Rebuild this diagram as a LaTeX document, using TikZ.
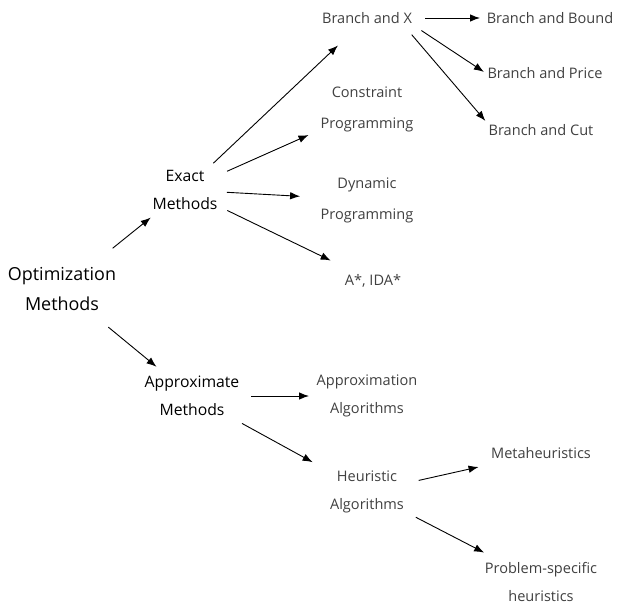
\documentclass[tikz,border=0pt]{standalone}
\usepackage{fontspec}
\setmainfont{Open Sans}
\usepackage{tikz}
\usetikzlibrary{arrows.meta, calc}
\newcommand{\arrowTip}{{Latex[length=10bp, width=7.5bp]}}
\newcommand{\lineWidth}{0.9bp}
\newcommand{\rootSize}{\fontsize{18}{31}\selectfont}
\newcommand{\mainSize}{\fontsize{15.8}{28}\selectfont}
\newcommand{\leafSize}{\fontsize{14.6}{28}\selectfont}
\definecolor{leafGray}{HTML}{404040}
\tikzstyle{panel}=[draw=none, inner sep=2bp, outer sep=0, align=center]
\tikzstyle{root}=[panel, text=black, font=\rootSize]
\tikzstyle{main}=[panel, text=black, font=\mainSize]
\tikzstyle{leaf}=[panel, text=leafGray, font=\leafSize]
\tikzstyle{line}=[draw=black, line width=\lineWidth]
\tikzstyle{arrow}=[line, -\arrowTip]

\begin{document}
\begin{tikzpicture}[x=1bp, y=-1bp]

% Frame
\useasboundingbox (0,0) rectangle (617,605);

% Root and first level
\node[root] (optim) at (62,289) {Optimization\\Methods};
\node[main] (exact) at (185,190) {Exact\\Methods};
\node[main] (approx) at (192,396) {Approximate\\Methods};

% Exact branch
\node[leaf] (branchX) at (367,18) {Branch and X};
\node[leaf] (constraint) at (367,109) {Constraint\\[3bp]Programming};
\node[leaf] (dynamic) at (367,200) {Dynamic\\[3bp]Programming};
\node[leaf] (aStar) at (373,281) {A*, IDA*};
\node[leaf] (bBound) at (550,18) {Branch and Bound};
\node[leaf] (bPrice) at (545,73) {Branch and Price};
\node[leaf] (bCut) at (541,130) {Branch and Cut};

% Approximate branch
\node[leaf] (approxAlg) at (367,396) {Approximation\\Algorithms};
\node[leaf] (heurAlg) at (367,492) {Heuristic\\Algorithms};
\node[leaf] (meta) at (541,453) {Metaheuristics};
\node[leaf] (probSpec) at (541,582) {Problem-specific\\heuristics};

% Arrows
\draw[arrow, shorten <=65bp, shorten >=44bp] (optim.center) -- (exact.center);
\draw[arrow, shorten <=60bp, shorten >=46bp] (optim.center) -- (approx.center);
\draw[arrow, shorten <=39bp, shorten >=40bp] (exact.center) -- (branchX.center);
\draw[arrow, shorten <=46bp, shorten >=64bp] (exact.center) -- (constraint.center);
\draw[arrow, shorten <=42bp, shorten >=67bp] (exact.center) -- (dynamic.center);
\draw[arrow, shorten <=47bp, shorten >=47bp] (exact.center) -- (aStar.center);
\draw[arrow, shorten <=58bp, shorten >=70bp] (branchX.center) -- (bBound.center);
\draw[arrow, shorten <=9bp, shorten >=2bp] (branchX.south east) -- (bPrice.west);
\draw[arrow, shorten <=12bp, shorten >=2bp] ([xshift=-10bp]branchX.south east) -- (bCut.north west);
\draw[arrow, shorten <=59bp, shorten >=58bp] (approx.center) -- (approxAlg.center);
\draw[arrow, shorten <=57bp, shorten >=62bp] (approx.center) -- (heurAlg.center);
\draw[arrow, shorten <=53bp, shorten >=64bp] (heurAlg.center) -- (meta.center);
\draw[arrow, shorten <=55bp, shorten >=64bp] (heurAlg.center) -- (probSpec.center);

\end{tikzpicture}
\end{document}
